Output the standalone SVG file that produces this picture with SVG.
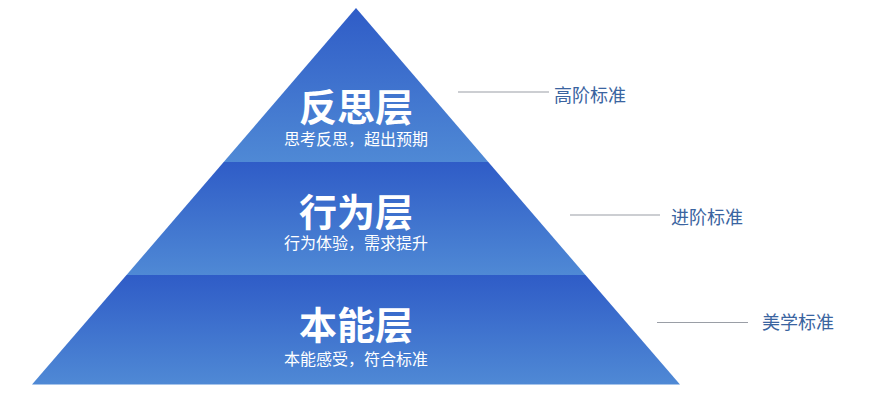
<svg xmlns="http://www.w3.org/2000/svg" width="872" height="410" viewBox="0 0 872 410">
  <defs>
    <linearGradient id="band" x1="0" y1="0" x2="0" y2="1">
      <stop offset="0" stop-color="#2f5cc7"/>
      <stop offset="1" stop-color="#4f89d5"/>
    </linearGradient>
    <style>
      .h { font-family: "Noto Sans CJK SC", "Noto Sans", sans-serif; font-size: 38px; font-weight: bold; fill: #ffffff; text-anchor: middle; dominant-baseline: central; }
      .s { font-family: "Noto Sans CJK SC", "Noto Sans", sans-serif; font-size: 16px; fill: #ffffff; text-anchor: middle; dominant-baseline: central; }
      .lbl { font-family: "Noto Sans CJK SC", "Noto Sans", sans-serif; font-size: 18px; fill: #3a64a0; dominant-baseline: central; }
      .ln { stroke: #9a9ea6; stroke-width: 1.2; fill: none; }
    </style>
  </defs>
  <rect width="872" height="410" fill="#ffffff"/>
  <g id="layer-top">
    <polygon points="356,8 488.3,162 223.7,162" fill="url(#band)"/>
    <text class="h" x="356" y="104">反思层</text>
    <text class="s" x="356" y="138">思考反思，超出预期</text>
  </g>
  <g id="layer-middle">
    <polygon points="223.7,162 488.3,162 585.5,275 126.5,275" fill="url(#band)"/>
    <text class="h" x="356" y="209">行为层</text>
    <text class="s" x="356" y="241.5">行为体验，需求提升</text>
  </g>
  <g id="layer-bottom">
    <polygon points="126.5,275 585.5,275 680,384.5 32,384.5" fill="url(#band)"/>
    <text class="h" x="356" y="322">本能层</text>
    <text class="s" x="356" y="358">本能感受，符合标准</text>
  </g>
  <g id="connectors">
    <line class="ln" x1="458" y1="92" x2="549" y2="92"/>
    <line class="ln" x1="570" y1="215" x2="660" y2="215"/>
    <line class="ln" x1="657" y1="322.5" x2="748" y2="322.5"/>
  </g>
  <g id="label-high">
    <text class="lbl" x="554" y="93.5">高阶标准</text>
  </g>
  <g id="label-advanced">
    <text class="lbl" x="671" y="215.5">进阶标准</text>
  </g>
  <g id="label-aesthetic">
    <text class="lbl" x="762" y="321">美学标准</text>
  </g>
</svg>
